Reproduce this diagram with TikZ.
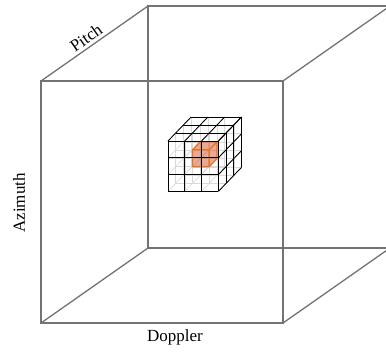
\documentclass[tikz,border=0pt]{standalone}
\usepackage{fontspec}
\setmainfont{Liberation Serif}
\definecolor{hotedge}{HTML}{E8741E}
\definecolor{hotfill}{HTML}{D9603A}
\tikzset{
  bigedge/.style={draw=gray!90!black, line width=1.3pt},
  hiddenline/.style={draw=gray!30, line width=0.6pt},
  gridline/.style={draw=black, line width=0.85pt},
  hotface/.style={fill=hotfill, fill opacity=0.32},
  hotline/.style={draw=hotedge, line width=1.3pt, line join=round},
  axislabel/.style={font=\fontsize{17}{20}\selectfont, inner sep=0pt}
}
\newcommand{\gp}[3]{({168+16.8*(#1)+7.7*(#3)},{141+16.8*(#2)-8*(#3)})}
\begin{document}
\begin{tikzpicture}[x=1pt,y=-1pt]
\useasboundingbox (0,0) rectangle (386,353);
\begin{scope}
\clip (0,0) rectangle (386,353);
% big cube
\coordinate (F1) at (41,81);
\coordinate (F2) at (283,81);
\coordinate (F3) at (283,323);
\coordinate (F4) at (41,323);
\coordinate (B1) at (148,6);
\coordinate (B2) at (390,6);
\coordinate (B3) at (390,248);
\coordinate (B4) at (148,248);
\draw[bigedge] (F1) -- (F2) -- (F3) -- (F4) -- cycle;
\draw[bigedge] (B1) -- (B2) -- (B3) -- (B4) -- cycle;
\draw[bigedge] (F1) -- (B1) (F2) -- (B2) (F3) -- (B3) (F4) -- (B4);
\end{scope}
% hidden lattice
\foreach \a in {0,1,2,3}{
  \foreach \b in {0,1,2,3}{
    \draw[hiddenline] \gp{0}{\a}{\b} -- \gp{3}{\a}{\b};
    \draw[hiddenline] \gp{\a}{0}{\b} -- \gp{\a}{3}{\b};
    \draw[hiddenline] \gp{\a}{\b}{0} -- \gp{\a}{\b}{3};
  }
}
% highlighted cell
\fill[hotface] \gp{1}{1}{2} -- \gp{2}{1}{2} -- \gp{2}{2}{2} -- \gp{1}{2}{2} -- cycle;
\fill[hotface] \gp{1}{1}{1} -- \gp{1}{1}{2} -- \gp{1}{2}{2} -- \gp{1}{2}{1} -- cycle;
\fill[hotface] \gp{1}{2}{1} -- \gp{2}{2}{1} -- \gp{2}{2}{2} -- \gp{1}{2}{2} -- cycle;
\fill[hotface] \gp{1}{1}{1} -- \gp{2}{1}{1} -- \gp{2}{1}{2} -- \gp{1}{1}{2} -- cycle;
\fill[hotface] \gp{2}{1}{1} -- \gp{2}{1}{2} -- \gp{2}{2}{2} -- \gp{2}{2}{1} -- cycle;
\fill[hotface] \gp{1}{1}{1} -- \gp{2}{1}{1} -- \gp{2}{2}{1} -- \gp{1}{2}{1} -- cycle;
\draw[hotline]
  \gp{1}{1}{1} -- \gp{2}{1}{1} -- \gp{2}{2}{1} -- \gp{1}{2}{1} -- cycle
  \gp{1}{1}{2} -- \gp{2}{1}{2} -- \gp{2}{2}{2}
  \gp{1}{1}{1} -- \gp{1}{1}{2}
  \gp{2}{1}{1} -- \gp{2}{1}{2}
  \gp{2}{2}{1} -- \gp{2}{2}{2};
% visible grid
\foreach \a in {0,1,2,3}{
  \draw[gridline] \gp{0}{\a}{0} -- \gp{3}{\a}{0};
  \draw[gridline] \gp{\a}{0}{0} -- \gp{\a}{3}{0};
  \draw[gridline] \gp{0}{0}{\a} -- \gp{3}{0}{\a};
  \draw[gridline] \gp{\a}{0}{0} -- \gp{\a}{0}{3};
  \draw[gridline] \gp{3}{0}{\a} -- \gp{3}{3}{\a};
  \draw[gridline] \gp{3}{\a}{0} -- \gp{3}{\a}{3};
}
% labels
\node[axislabel, rotate=35] (pitch) at (86,38) {Pitch};
\node[axislabel, rotate=90] (azimuth) at (19,203) {Azimuth};
\node[axislabel] (doppler) at (175,337) {Doppler};
\end{tikzpicture}
\end{document}
